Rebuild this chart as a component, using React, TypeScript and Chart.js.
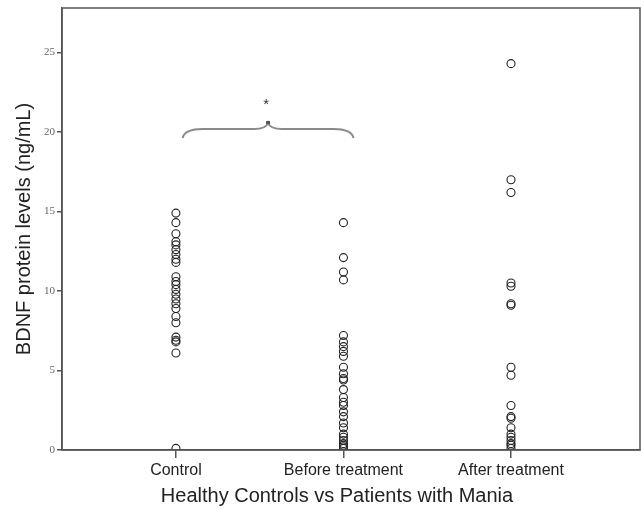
import React, { useEffect, useRef } from "react";
import { Chart, registerables } from "chart.js";

Chart.register(...registerables);

const categories = ["Control", "Before treatment", "After treatment"];

const controlValues = [
  14.9, 14.3, 13.6, 13.1, 12.9, 12.6, 12.3, 12.0, 11.8,
  10.9, 10.6, 10.4, 10.1, 9.8, 9.5, 9.2, 8.9, 8.4, 8.0,
  7.1, 6.9, 6.8, 6.1, 0.1,
];

const beforeValues = [
  14.3, 12.1, 11.2, 10.7, 7.2, 6.8, 6.5, 6.2, 5.9, 5.2, 4.8,
  4.5, 4.4, 3.8, 3.3, 3.0, 2.8, 2.4, 2.1, 1.7, 1.4, 1.0, 0.8,
  0.6, 0.4, 0.3, 0.2, 0.1,
];

const afterValues = [
  24.3, 17.0, 16.2, 10.5, 10.3, 9.2, 9.1, 5.2, 4.7, 2.8, 2.1,
  2.0, 1.4, 1.0, 0.8, 0.6, 0.4, 0.3, 0.1,
];

const yTicks = [0, 5, 10, 15, 20, 25];
const yMax = 27.8;
const braceFrom = 1.04;
const braceTo = 2.06;
const braceLevel = 20.0;
const braceLabel = "*";
const xTitle = "Healthy Controls vs Patients with Mania";
const yTitle = "BDNF protein levels (ng/mL)";

const boxPlugin = {
  id: "boxPlugin",
  afterDraw(chart: any) {
    const { ctx, chartArea } = chart;
    ctx.save();
    ctx.strokeStyle = "#555";
    ctx.lineWidth = 1.5;
    ctx.strokeRect(chartArea.left, chartArea.top, chartArea.right - chartArea.left, chartArea.bottom - chartArea.top);
    ctx.fillStyle = "#222";
    ctx.font = "20px 'Liberation Sans', Arial, sans-serif";
    ctx.textAlign = "center";
    ctx.textBaseline = "middle";
    ctx.fillText(xTitle, (chartArea.left + chartArea.right) / 2 - 14, chartArea.bottom + 46);
    ctx.restore();
  },
};

const bracePlugin = {
  id: "bracePlugin",
  afterDatasetsDraw(chart: any) {
    const { ctx } = chart;
    const xs = chart.scales.x;
    const ys = chart.scales.y;
    const x0 = xs.getPixelForValue(braceFrom);
    const x1 = xs.getPixelForValue(braceTo);
    const yb = ys.getPixelForValue(braceLevel);
    const mid = (x0 + x1) / 2;
    ctx.save();
    ctx.strokeStyle = "#8a8a8a";
    ctx.lineWidth = 2;
    ctx.beginPath();
    ctx.moveTo(x0, yb + 6);
    ctx.quadraticCurveTo(x0 + 2, yb - 3, x0 + 20, yb - 3);
    ctx.lineTo(mid - 14, yb - 3);
    ctx.quadraticCurveTo(mid - 2, yb - 3, mid, yb - 9);
    ctx.quadraticCurveTo(mid + 2, yb - 3, mid + 14, yb - 3);
    ctx.lineTo(x1 - 20, yb - 3);
    ctx.quadraticCurveTo(x1 - 2, yb - 3, x1, yb + 6);
    ctx.stroke();
    ctx.fillStyle = "#555";
    ctx.fillRect(mid - 2, yb - 11, 4, 3);
    ctx.fillStyle = "#333";
    ctx.font = "15px 'Liberation Sans', Arial, sans-serif";
    ctx.textAlign = "center";
    ctx.textBaseline = "middle";
    ctx.fillText(braceLabel, mid - 2, yb - 27);
    ctx.restore();
  },
};

const pointStyle = {
  backgroundColor: "rgba(0,0,0,0)",
  borderColor: "#222",
  borderWidth: 1.1,
  pointRadius: 4,
  pointHoverRadius: 4,
  showLine: false,
};

export default function App() {
  const ref = useRef<HTMLCanvasElement | null>(null);

  useEffect(() => {
    if (!ref.current) return;
    const series = [controlValues, beforeValues, afterValues];
    const chart = new Chart(ref.current, {
      type: "scatter",
      data: {
        datasets: series.map((vals, i) => ({
          label: categories[i],
          data: vals.map((v) => ({ x: i + 1, y: v })),
          ...pointStyle,
        })),
      },
      options: {
        animation: false,
        responsive: true,
        maintainAspectRatio: false,
        layout: { autoPadding: false, padding: { top: 8, right: 1, left: 0, bottom: 0 } },
        plugins: {
          legend: { display: false },
          tooltip: { enabled: false },
        },
        scales: {
          x: {
            type: "linear",
            min: 0.32,
            max: 3.77,
            afterBuildTicks: (scale: any) => {
              scale.ticks = categories.map((_, i) => ({ value: i + 1 }));
            },
            afterFit: (scale: any) => {
              scale.height = 59;
              scale.paddingLeft = 0;
              scale.paddingRight = 0;
            },
            ticks: {
              autoSkip: false,
              maxRotation: 0,
              padding: 3,
              color: "#222",
              font: { family: "'Liberation Sans', Arial, sans-serif", size: 16 },
              callback: (v: any) => categories[Number(v) - 1] ?? "",
            },
            grid: { drawOnChartArea: false, drawTicks: true, tickLength: 8, color: "#555", lineWidth: 1.5 },
            border: { display: true, color: "#555", width: 1.5 },
          },
          y: {
            min: 0,
            max: yMax,
            afterBuildTicks: (scale: any) => {
              scale.ticks = yTicks.map((v) => ({ value: v }));
            },
            afterFit: (scale: any) => {
              scale.width = 62;
              scale.paddingTop = 0;
              scale.paddingBottom = 0;
            },
            ticks: {
              color: "#666",
              padding: 2,
              font: { family: "'Liberation Serif', 'Times New Roman', serif", size: 11 },
            },
            grid: { drawOnChartArea: false, drawTicks: true, tickLength: 5, color: "#555", lineWidth: 1.5 },
            border: { display: true, color: "#555", width: 1.5 },
            title: {
              display: true,
              text: yTitle,
              color: "#222",
              font: { family: "'Liberation Sans', Arial, sans-serif", size: 20 },
              padding: { top: 12, bottom: 0 },
            },
          },
        },
      },
      plugins: [boxPlugin, bracePlugin],
    });
    return () => chart.destroy();
  }, []);

  return (
    <div style={{ position: "fixed", left: 0, top: 0, width: 641, height: 509, background: "#fff" }}>
      <div style={{ position: "relative", width: 641, height: 509 }}>
        <canvas ref={ref} />
      </div>
    </div>
  );
}
